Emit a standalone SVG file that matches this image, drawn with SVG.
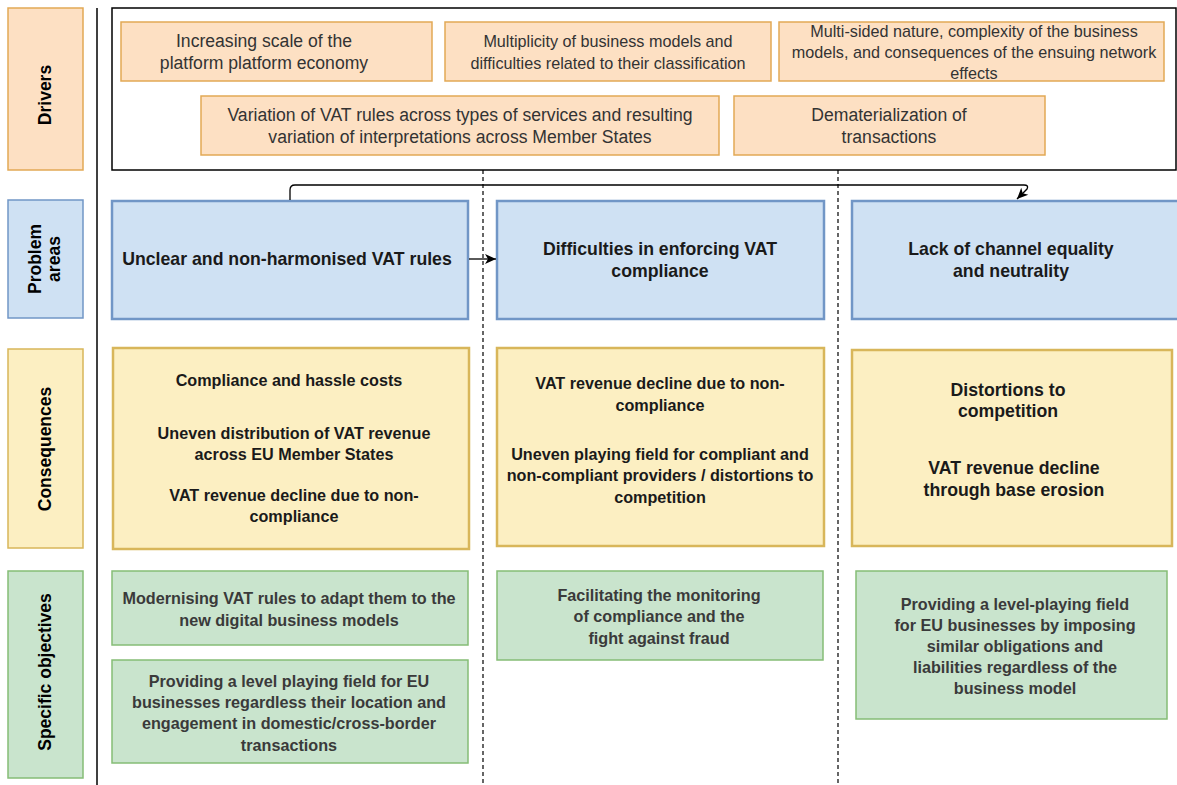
<svg xmlns="http://www.w3.org/2000/svg" width="1177" height="785" viewBox="0 0 1177 785">
<style>
text{font-family:"Liberation Sans",Arial,sans-serif;fill:#1a1a1a;text-anchor:middle}
.lbl{font-weight:bold;font-size:17.5px;fill:#000}
.drv{fill:#fde0c3;stroke:#e2a955;stroke-width:1.5}
.prb{fill:#cfe1f3;stroke:#7196c6;stroke-width:2.5}
.cns{fill:#fcefc2;stroke:#d8b65a;stroke-width:2.5}
.obj{fill:#c9e4cd;stroke:#85bd76;stroke-width:1.5}
.t16{font-size:17.6px;fill:#333}
.t14{font-size:16.2px;fill:#333}
.b16{font-size:17.7px;font-weight:bold}
.b14{font-size:16.2px;font-weight:bold}
.o14{font-size:16.2px;font-weight:bold;fill:#3a3a3a}
</style>
<defs>
<marker id="ah" markerWidth="13" markerHeight="12" refX="12" refY="6" orient="auto" markerUnits="userSpaceOnUse">
<path d="M1,1 L12,6 L1,11 L4,6 Z" fill="#000"/>
</marker>
</defs>
<rect width="1177" height="785" fill="#fff"/>

<g id="lanes">
<rect x="8" y="8" width="75" height="162" class="drv"/>
<text class="lbl" transform="translate(45,95) rotate(-90)" dy="6">Drivers</text>
<rect x="8" y="200" width="75" height="118" fill="#cfe1f3" stroke="#7196c6" stroke-width="1.5"/>
<text class="lbl" transform="translate(45,259) rotate(-90)"><tspan x="0" dy="-4">Problem</tspan><tspan x="0" dy="19">areas</tspan></text>
<rect x="8" y="349" width="75" height="199" fill="#fcefc2" stroke="#d8b65a" stroke-width="1.5"/>
<text class="lbl" transform="translate(45,449) rotate(-90)" dy="6">Consequences</text>
<rect x="8" y="571" width="75" height="207" class="obj"/>
<text class="lbl" transform="translate(45,672) rotate(-90)" dy="6">Specific objectives</text>
</g>

<g id="separators">
<line x1="97" y1="8" x2="97" y2="785" stroke="#000" stroke-width="1.5"/>
<line x1="483" y1="170" x2="483" y2="785" stroke="#000" stroke-width="1.2" stroke-dasharray="4,3"/>
<line x1="838" y1="170" x2="838" y2="785" stroke="#000" stroke-width="1.2" stroke-dasharray="4,3"/>
</g>

<g id="drivers-frame">
<rect x="112" y="8" width="1064" height="162" fill="#fff" stroke="#000" stroke-width="1.5"/>
</g>

<g id="d1"><rect x="121" y="22" width="311" height="59" class="drv"/>
<text class="t16" x="264" y="47">Increasing scale of the</text><text class="t16" x="264" y="69">platform platform economy</text></g>
<g id="d2"><rect x="445" y="22" width="326" height="59" class="drv"/>
<text class="t14" x="608" y="47">Multiplicity of business models and</text><text class="t14" x="608" y="69">difficulties related to their classification</text></g>
<g id="d3"><rect x="779" y="22" width="385" height="59" class="drv"/>
<text class="t14" x="974" y="37">Multi-sided nature, complexity of the business</text><text class="t14" x="974" y="58">models, and consequences of the ensuing network</text><text class="t14" x="974" y="79">effects</text></g>
<g id="d4"><rect x="201" y="96" width="518" height="59" class="drv"/>
<text class="t16" x="460" y="121">Variation of VAT rules across types of services and resulting</text><text class="t16" x="460" y="143">variation of interpretations across Member States</text></g>
<g id="d5"><rect x="734" y="96" width="311" height="59" class="drv"/>
<text class="t16" x="889" y="121">Dematerialization of</text><text class="t16" x="889" y="143">transactions</text></g>

<g id="p1"><rect x="112" y="201" width="356" height="118" class="prb"/>
<text class="b16" x="287" y="265">Unclear and non-harmonised VAT rules</text></g>
<g id="p2"><rect x="497" y="201" width="327" height="118" class="prb"/>
<text class="b16" x="660" y="255">Difficulties in enforcing VAT</text><text class="b16" x="660" y="277">compliance</text></g>
<g id="p3"><rect x="852" y="201" width="330" height="118" class="prb"/>
<text class="b16" x="1011" y="255">Lack of channel equality</text><text class="b16" x="1011" y="277">and neutrality</text></g>

<g id="c1"><rect x="113" y="348" width="356" height="201" class="cns"/>
<text class="b14" x="289" y="386">Compliance and hassle costs</text>
<text class="b14" x="294" y="439">Uneven distribution of VAT revenue</text><text class="b14" x="294" y="460">across EU Member States</text>
<text class="b14" x="294" y="501">VAT revenue decline due to non-</text><text class="b14" x="294" y="522">compliance</text></g>
<g id="c2"><rect x="497" y="348" width="327" height="198" class="cns"/>
<text class="b14" x="660" y="389">VAT revenue decline due to non-</text><text class="b14" x="660" y="411">compliance</text>
<text class="b14" x="660" y="460">Uneven playing field for compliant and</text><text class="b14" x="660" y="481">non-compliant providers / distortions to</text><text class="b14" x="660" y="503">competition</text></g>
<g id="c3"><rect x="852" y="350" width="320" height="196" class="cns"/>
<text class="b16" x="1008" y="396">Distortions to</text><text class="b16" x="1008" y="417">competition</text>
<text class="b16" x="1014" y="474">VAT revenue decline</text><text class="b16" x="1014" y="496">through base erosion</text></g>

<g id="o1"><rect x="112" y="571" width="356" height="74" class="obj"/>
<text class="o14" x="289" y="604">Modernising VAT rules to adapt them to the</text><text class="o14" x="289" y="626">new digital business models</text></g>
<g id="o2"><rect x="112" y="660" width="356" height="103" class="obj"/>
<text class="o14" x="289" y="687">Providing a level playing field for EU</text><text class="o14" x="289" y="708">businesses regardless their location and</text><text class="o14" x="289" y="729">engagement in domestic/cross-border</text><text class="o14" x="289" y="751">transactions</text></g>
<g id="o3"><rect x="497" y="571" width="326" height="89" class="obj"/>
<text class="o14" x="659" y="601">Facilitating the monitoring</text><text class="o14" x="659" y="622">of compliance and the</text><text class="o14" x="659" y="644">fight against fraud</text></g>
<g id="o4"><rect x="856" y="571" width="311" height="148" class="obj"/>
<text class="o14" x="1015" y="610">Providing a level-playing field</text><text class="o14" x="1015" y="631">for EU businesses by imposing</text><text class="o14" x="1015" y="652">similar obligations and</text><text class="o14" x="1015" y="673">liabilities regardless of the</text><text class="o14" x="1015" y="694">business model</text></g>

<g id="connectors" fill="none" stroke="#000" stroke-width="1.3">
<path d="M469,259 H496" marker-end="url(#ah)"/>
<path d="M290,200 V190 Q290,185 295,185 H1024 Q1029,185 1027,189 L1017,199" marker-end="url(#ah)"/>
</g>
</svg>
